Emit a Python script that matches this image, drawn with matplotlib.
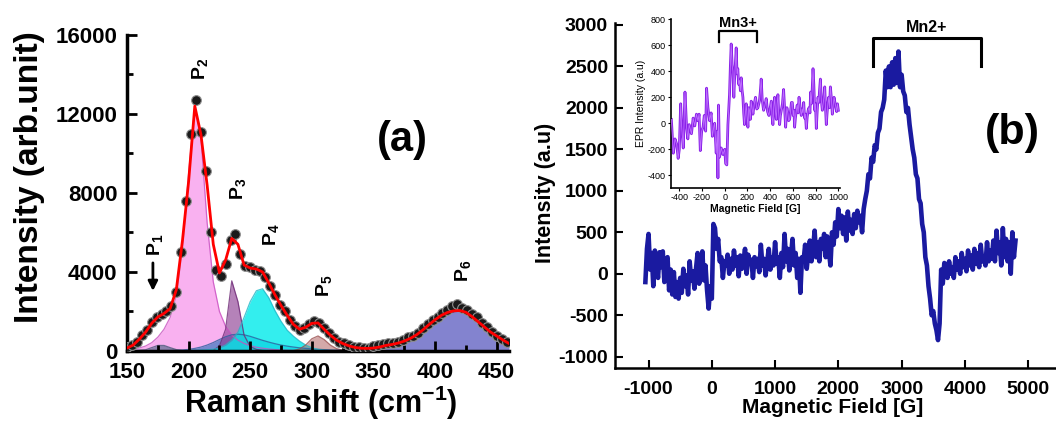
"""
Raman spectrum with fitted peaks (a) and EPR spectrum with inset (b).
"""
import numpy as np
import matplotlib
matplotlib.use("Agg")
import matplotlib.pyplot as plt
from matplotlib.ticker import MultipleLocator

plt.rcParams.update({
    "font.family": ["Liberation Sans", "DejaVu Sans"],
    "font.weight": "bold",
    "axes.unicode_minus": False,
    "mathtext.fontset": "custom",
    "mathtext.rm": "Liberation Sans:bold",
    "mathtext.it": "Liberation Sans:bold",
    "mathtext.bf": "Liberation Sans:bold",
    "mathtext.default": "regular",
})

# ---------------- (a) Raman ----------------
raman_shift = np.arange(150, 461, 5)  # 63 points, 150..460

raman_fit = [
    150, 300, 600, 950, 1400, 1720, 1900, 2150, 3100, 5600,
    8600, 12400, 10950, 8400, 5400, 3950, 4600, 5700, 5400, 4350,
    4200, 4150, 4000, 3450, 2850, 2300, 1800, 1350, 1100, 1200,
    1400, 1420, 1100, 800, 550, 380, 260, 180, 140, 130,
    150, 200, 280, 330, 400, 500, 640, 820, 1060, 1330,
    1580, 1800, 1950, 2030, 2050, 1960, 1740, 1480, 1220, 960,
    760, 560, 380,
]

peak_p1 = [
    10, 20, 40, 60, 170, 280, 280, 170, 70, 25,
    10, 0, 0, 0, 0, 0, 0, 0, 0, 0,
    0, 0, 0, 0, 0, 0, 0, 0, 0, 0,
    0, 0, 0, 0, 0, 0, 0, 0, 0, 0,
    0, 0, 0, 0, 0, 0, 0, 0, 0, 0,
    0, 0, 0, 0, 0, 0, 0, 0, 0, 0,
    0, 0, 0,
]
peak_p2 = [
    60, 90, 150, 250, 420, 700, 1100, 1700, 2800, 5200,
    9000, 12400, 10800, 6500, 3500, 2000, 1250, 800, 550, 380,
    270, 190, 140, 100, 70, 50, 35, 25, 15, 10,
    5, 0, 0, 0, 0, 0, 0, 0, 0, 0,
    0, 0, 0, 0, 0, 0, 0, 0, 0, 0,
    0, 0, 0, 0, 0, 0, 0, 0, 0, 0,
    0, 0, 0,
]
peak_blue = [
    0, 0, 0, 0, 5, 8, 12, 20, 32, 50,
    80, 130, 200, 300, 430, 580, 720, 820, 850, 820,
    740, 640, 540, 450, 370, 300, 245, 200, 160, 130,
    105, 85, 68, 55, 44, 35, 28, 22, 17, 13,
    10, 7, 5, 3, 0, 0, 0, 0, 0, 0,
    0, 0, 0, 0, 0, 0, 0, 0, 0, 0,
    0, 0, 0,
]
peak_p3 = [
    0, 0, 0, 0, 0, 0, 0, 0, 0, 0,
    0, 0, 0, 0, 40, 250, 1100, 3550, 2500, 800,
    220, 80, 30, 10, 0, 0, 0, 0, 0, 0,
    0, 0, 0, 0, 0, 0, 0, 0, 0, 0,
    0, 0, 0, 0, 0, 0, 0, 0, 0, 0,
    0, 0, 0, 0, 0, 0, 0, 0, 0, 0,
    0, 0, 0,
]
peak_p4 = [
    0, 0, 0, 0, 0, 0, 0, 0, 0, 0,
    20, 30, 40, 60, 90, 160, 300, 550, 950, 1700,
    2500, 3050, 3150, 2700, 2050, 1500, 1050, 750, 500, 300,
    160, 80, 30, 10, 0, 0, 0, 0, 0, 0,
    0, 0, 0, 0, 0, 0, 0, 0, 0, 0,
    0, 0, 0, 0, 0, 0, 0, 0, 0, 0,
    0, 0, 0,
]
peak_p5 = [
    0, 0, 0, 0, 0, 0, 0, 0, 0, 0,
    0, 0, 0, 0, 0, 0, 0, 0, 0, 0,
    0, 0, 0, 0, 0, 0, 0, 20, 100, 300,
    620, 760, 580, 300, 120, 40, 10, 0, 0, 0,
    0, 0, 0, 0, 0, 0, 0, 0, 0, 0,
    0, 0, 0, 0, 0, 0, 0, 0, 0, 0,
    0, 0, 0,
]
peak_p6 = [
    0, 0, 0, 0, 0, 0, 0, 0, 0, 0,
    0, 0, 0, 0, 0, 0, 0, 0, 0, 0,
    0, 0, 0, 0, 0, 0, 0, 0, 0, 0,
    0, 0, 0, 0, 25, 32, 40, 50, 60, 75,
    95, 120, 160, 220, 300, 400, 530, 690, 880, 1100,
    1340, 1580, 1800, 1970, 2040, 1970, 1790, 1540, 1260, 980,
    740, 540, 390,
]

raman_data_x = np.arange(150, 459, 4)  # 78 points
raman_data_y = [
    200, 280, 480, 800, 1050, 1450, 1700, 1850, 2000, 2300,
    3000, 5000, 7600, 11000, 12700, 11100, 9100, 6000, 4100, 3800,
    4400, 5600, 5900, 4900, 4300, 4250, 4100, 4050, 3750, 3300,
    2850, 2350, 2000, 1550, 1250, 1050, 1150, 1350, 1500, 1400,
    1150, 900, 650, 480, 380, 280, 220, 180, 170, 160,
    230, 300, 350, 380, 420, 480, 560, 700, 750, 900,
    1150, 1350, 1550, 1700, 1900, 2050, 2300, 2400, 2200, 2050,
    1850, 1700, 1400, 1200, 950, 750, 600, 430,
]

peak_labels = ["P$_1$", "P$_2$", "P$_3$", "P$_4$", "P$_5$", "P$_6$"]
peak_label_x = [173, 209, 240, 266.5, 310, 423]
peak_label_y = [5400, 14300, 8200, 5900, 3300, 4050]

# ---------------- (b) EPR ----------------
epr_field = np.arange(-1050, 4801, 25)  # 235 points
epr_signal = [
    -100, 300, 480, 50, 250, -150, 280, 100, -50, 260,
    80, 270, -100, 150, 200, -200, 50, -250, 20, -280,
    -100, -300, -50, -230, 60, -150, -20, -250, 150, -80,
    30, -180, 60, 250, -120, 50, 270, -80, 100, -200,
    -420, -150, -300, 600, 550, 300, 420, 150, 200, -50,
    150, 100, 230, 0, 180, 50, 280, 100, 200, -30,
    220, 60, 150, 300, 0, 230, 120, 170, -50, 200,
    90, 180, 20, 350, 100, 180, -20, 150, 300, 50,
    200, 100, 380, 120, 200, -50, 250, 80, 480, 150,
    300, 40, 200, 420, 100, 250, -50, 180, -230, 200,
    150, 350, 60, 250, 400, 150, 300, 520, 200, 380,
    150, 420, 300, 480, 200, 450, 280, 100, 500, 350,
    620, 450, 780, 550, 700, 480, 680, 400, 750, 520,
    650, 480, 720, 550, 760, 620, 700, 500, 780, 900,
    1000, 1200, 1150, 1400, 1350, 1550, 1500, 1700, 1750, 1950,
    2000, 2100, 2450, 2250, 2500, 2250, 2550, 2280, 2600, 2300,
    2680, 2250, 2400, 2200, 2150, 1950, 2000, 1800, 1650, 1500,
    1400, 1200, 1150, 900, 850, 600, 500, 200, 100, -150,
    -300, -500, -450, -600, -680, -800, -600, 50, -120, 130,
    100, -50, 150, 0, 80, -50, 200, 50, 150, 0,
    250, 80, 180, 30, 280, 100, 220, 50, 300, 120,
    250, 80, 350, 150, 200, 100, 380, 150, 280, 180,
    400, 150, 520, 250, 380, 100, 550, 200, 420, 150,
    380, 0, 500, 200, 400,
]

inset_field = [
    -470, -453, -438, -423, -410, -400, -388, -380, -365, -350,
    -336, -325, -313, -293, -278, -264, -249, -236, -226, -215,
    -203, -191, -180, -168, -160, -148, -133, -120, -109, -95,
    -89, -75, -66, -60, -55, -46, -31, -16, 0, 8,
    18, 28, 42, 50, 57, 65, 72, 80, 86, 95,
    101, 108, 115, 122, 130, 138, 145, 152, 160, 167,
    174, 182, 189, 196, 204, 211, 218, 225, 233, 240,
    248, 260, 271, 282, 292, 305, 313, 321, 330, 342,
    352, 365, 377, 389, 400, 410, 417, 424, 431, 439,
    446, 454, 461, 468, 475, 483, 490, 498, 508, 518,
    527, 536, 542, 547, 555, 563, 571, 579, 587, 595,
    603, 609, 615, 622, 630, 638, 646, 654, 662, 668,
    674, 681, 688, 695, 703, 710, 718, 726, 734, 742,
    750, 756, 762, 770, 777, 784, 792, 799, 806, 813,
    821, 828, 835, 842, 850, 859, 866, 873, 880, 887,
    894, 901, 908, 915, 922, 930, 938, 947, 954, 962,
    970, 977, 985, 992, 1000,
]
inset_signal = [
    30, -230, -120, -160, -270, -200, 150, -20, -190, 240,
    -30, -120, -10, -80, 40, -20, 70, 20, 70, -210,
    -60, -30, 60, -60, 270, 120, 20, 80, -100, -20,
    0, -230, -60, -420, 140, -260, -190, -240, -200, -310,
    -320, -10, 220, 450, 610, 450, 400, 200, 330, 480,
    580, 380, 420, 300, 330, 250, 350, 260, 200, 80,
    -10, 80, 150, 60, -30, 120, 100, 30, 170, 120,
    70, 150, 200, 110, 120, 170, 240, 340, 180, 100,
    130, 190, 90, 60, 120, 170, 50, -10, 120, 200,
    100, 30, 150, 220, 80, -10, 60, 100, 150, 260,
    110, -30, 60, 120, 80, 20, 30, 90, 160, 160,
    60, 100, -30, 40, 100, 140, 80, 200, 140, 90,
    60, 110, 80, 160, 40, 70, -40, 50, 100, 120,
    80, 240, 150, 260, 420, 300, 100, 150, -40, 80,
    200, 160, 260, 340, 180, 100, 150, 200, 280, 120,
    -10, 80, 150, 200, 120, 280, 200, 70, 130, 200,
    160, 130, 90, 150, 100,
]

mn2_range = (2550, 4260)
mn2_levels = (2510, 2845)
mn3_range = (-50, 280)
mn3_levels = (625, 710)

# ---------------- figure ----------------
fig = plt.figure(figsize=(10.56, 4.21), dpi=100)

ax_a = fig.add_axes([0.1203, 0.1663, 0.3617, 0.7506])

components = [
    (peak_p2, "#f57de6", 0.6, "#c84fc0"),
    (peak_blue, "#3a78c0", 0.7, "#2a5f9f"),
    (peak_p1, "#5d6d8f", 0.7, "#4a5a7a"),
    (peak_p3, "#8e3f94", 0.65, "#6e2a76"),
    (peak_p4, "#00eaea", 0.8, "#20b8c8"),
    (peak_p5, "#b87070", 0.6, "#9a5050"),
    (peak_p6, "#3030b0", 0.6, "#101070"),
]
for vals, face, alpha, edge in components:
    vals = np.asarray(vals, dtype=float)
    ax_a.fill_between(raman_shift, vals, color=face, alpha=alpha, lw=0, zorder=1)
    ax_a.plot(raman_shift, np.where(vals > 0, vals, np.nan), color=edge,
              lw=0.9, alpha=0.8, zorder=1.5)

ax_a.plot(raman_data_x, raman_data_y, "o", ms=7, mfc="#1a1a1a", mec="#909090",
          mew=0.8, zorder=3)
ax_a.plot(raman_shift, raman_fit, color="red", lw=2, zorder=4)

for lab, lx, ly in zip(peak_labels, peak_label_x, peak_label_y):
    ax_a.text(lx, ly, lab, rotation=90, ha="center", va="center", fontsize=14,
              fontweight="bold")
ax_a.annotate("", xy=(171, 2900), xytext=(171, 4600),
              arrowprops=dict(arrowstyle="-|>", color="k", lw=2, mutation_scale=14))

ax_a.set_xlim(150, 460)
ax_a.set_ylim(0, 16000)
ax_a.set_xticks(range(150, 451, 50))
ax_a.set_yticks(range(0, 16001, 4000))
ax_a.yaxis.set_minor_locator(MultipleLocator(2000))
ax_a.xaxis.set_minor_locator(MultipleLocator(25))
ax_a.tick_params(which="both", direction="in", width=2, labelsize=16)
ax_a.tick_params(which="major", length=7)
ax_a.tick_params(which="minor", length=4)
ax_a.tick_params(axis="x", pad=8)
ax_a.tick_params(axis="y", pad=7)
for side in ("top", "right"):
    ax_a.spines[side].set_visible(False)
for side in ("left", "bottom"):
    ax_a.spines[side].set_linewidth(2.5)

fig.text(0.0284, 0.5796, "Intensity (arb.unit)", rotation=90, ha="center",
         va="center", fontsize=24, fontweight="bold")
fig.text(0.304, 0.019, "Raman shift (cm$^{-1}$)", ha="center", va="baseline",
         fontsize=22, fontweight="bold")
fig.text(0.3807, 0.6675, "(a)", ha="center", va="center", fontsize=30,
         fontweight="bold")

# (b)
ax_b = fig.add_axes([0.5824, 0.1252, 0.4176, 0.8194])
ax_b.plot(epr_field, epr_signal, color="#1a1aa0", lw=3.3, zorder=2)
ax_b.set_xlim(-1530, 5440)
ax_b.set_ylim(-1140, 3020)
ax_b.set_xticks(range(-1000, 5001, 1000))
ax_b.set_yticks(range(-1000, 3001, 500))
ax_b.tick_params(direction="in", length=6, width=1.5, labelsize=14)
ax_b.tick_params(axis="x", pad=9)
ax_b.tick_params(axis="y", pad=5)
for side in ("top", "right"):
    ax_b.spines[side].set_visible(False)
for side in ("left", "bottom"):
    ax_b.spines[side].set_linewidth(1.8)

ax_b.plot([mn2_range[0], mn2_range[0], mn2_range[1], mn2_range[1]],
          [mn2_levels[0], mn2_levels[1], mn2_levels[1], mn2_levels[0]],
          color="k", lw=2.2, clip_on=False)
ax_b.text(sum(mn2_range) / 2 - 10, 2975, "Mn2+", ha="center", va="center",
          fontsize=11.5, fontweight="bold")

fig.text(0.5161, 0.5416, "Intensity (a.u)", rotation=90, ha="center",
         va="center", fontsize=15.5, fontweight="bold")
fig.text(0.7888, 0.031, "Magnetic Field [G]", ha="center", va="center",
         fontsize=15, fontweight="bold")
fig.text(0.9583, 0.6841, "(b)", ha="center", va="center", fontsize=31,
         fontweight="bold")

# inset
ax_in = fig.add_axes([0.6351, 0.5527, 0.1604, 0.4015])
ax_in.patch.set_alpha(0)
ax_in.plot(inset_field, inset_signal, color="#8a22e8", lw=2, zorder=2)
ax_in.plot(inset_field, inset_signal, color="#c070ff", lw=0.6, zorder=3)
ax_in.set_xlim(-476, 1015)
ax_in.set_ylim(-500, 800)
ax_in.set_xticks(range(-400, 1001, 200))
ax_in.set_yticks(range(-400, 801, 200))
ax_in.tick_params(direction="out", length=2, width=0.8, labelsize=6.5, pad=1.5)
for lab in ax_in.get_xticklabels() + ax_in.get_yticklabels():
    lab.set_fontweight("normal")
for side in ("top", "right"):
    ax_in.spines[side].set_visible(False)
for side in ("left", "bottom"):
    ax_in.spines[side].set_linewidth(1.2)
ax_in.set_ylabel("EPR Intensity (a.u)", fontsize=7.5, fontweight="normal",
                 labelpad=1)
ax_in.set_xlabel("Magnetic Field [G]", fontsize=7.5, fontweight="bold",
                 labelpad=1)
ax_in.plot([mn3_range[0], mn3_range[0], mn3_range[1], mn3_range[1]],
           [mn3_levels[0], mn3_levels[1], mn3_levels[1], mn3_levels[0]],
           color="k", lw=1.6, clip_on=False)
ax_in.text(sum(mn3_range) / 2, 775, "Mn3+", ha="center", va="center",
           fontsize=10.5, fontweight="bold")

fig.savefig("out.png", dpi=100)
